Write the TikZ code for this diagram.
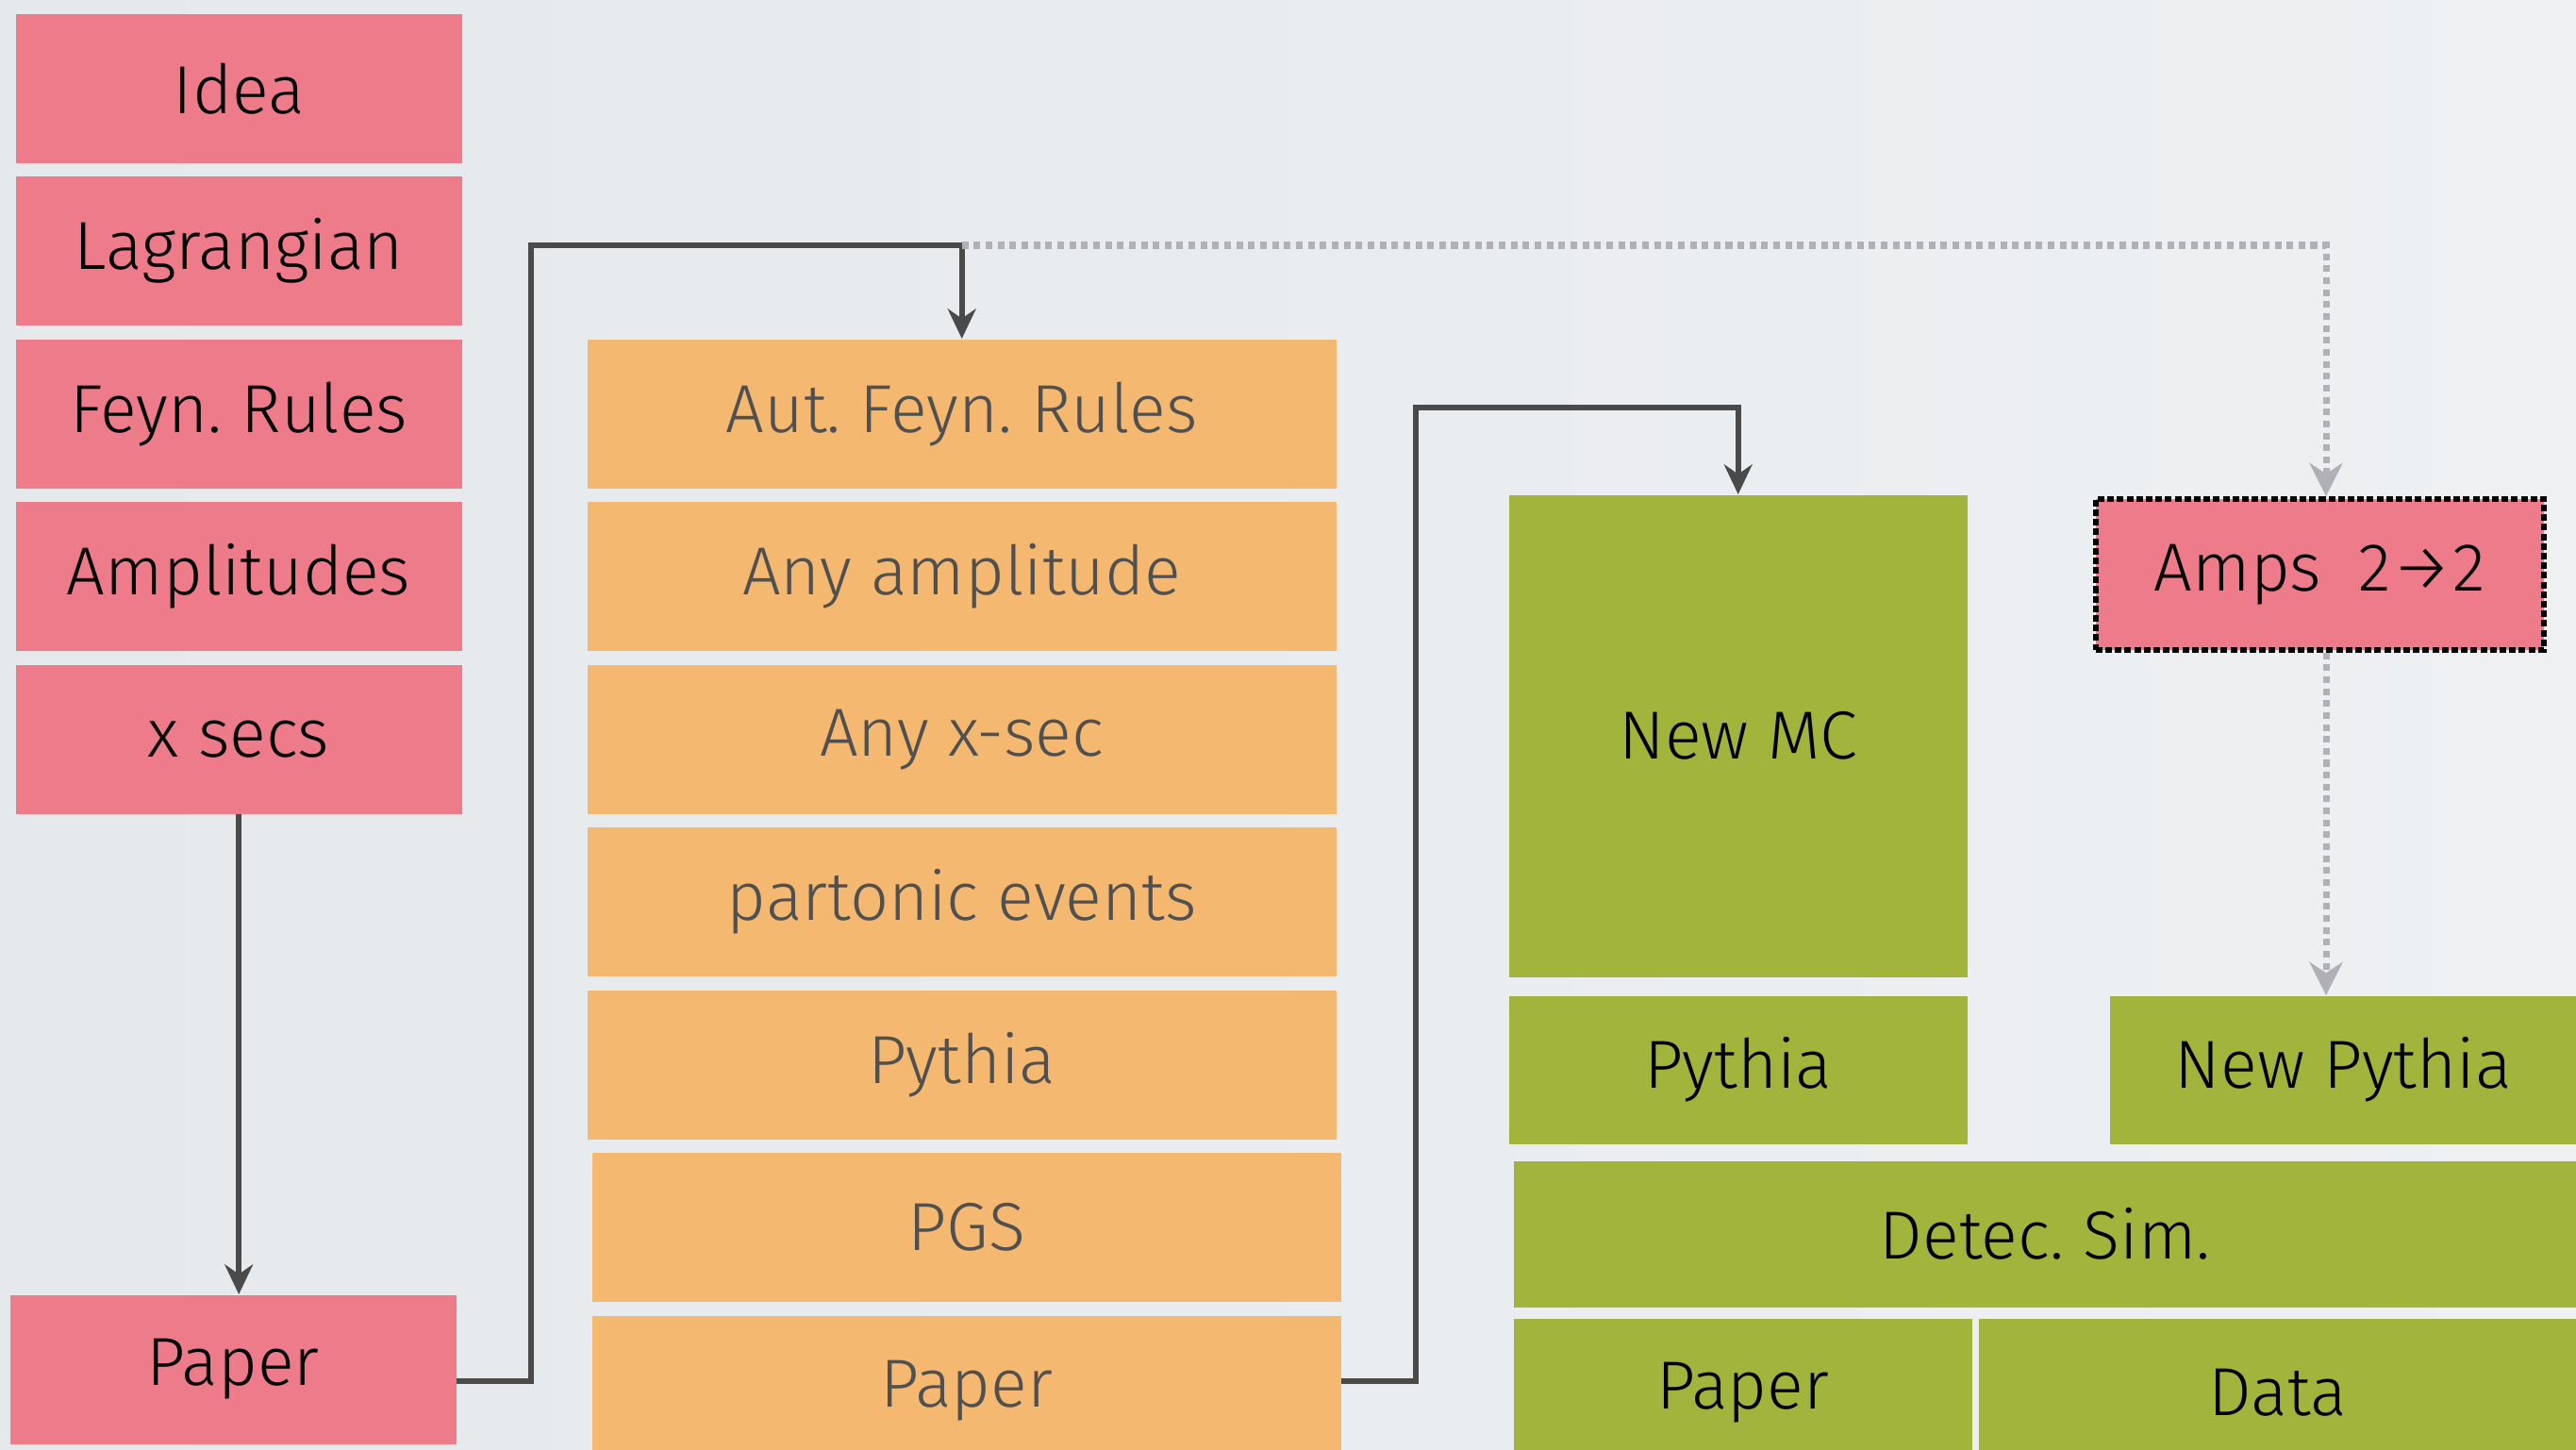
\documentclass[tikz,border=0pt]{standalone}
\usepackage{fontspec}
\setmainfont{Fira Sans Light}
\usetikzlibrary{arrows.meta,positioning,calc}

\definecolor{bgLeft}{RGB}{229,233,236}
\definecolor{bgRight}{RGB}{238,240,242}
\definecolor{boxPink}{RGB}{238,123,138}
\definecolor{boxOrange}{RGB}{244,184,112}
\definecolor{boxGreen}{RGB}{163,180,60}
\definecolor{lineGrey}{RGB}{74,74,74}
\definecolor{dotGrey}{RGB}{176,176,182}
\definecolor{textGrey}{RGB}{80,80,80}

\tikzset{
  block/.style={draw=none, inner sep=0pt, anchor=north west,
    font=\fontsize{20.5}{24}\selectfont, minimum height=1.58cm},
  pinkbox/.style={block, fill=boxPink, text=black, minimum width=4.73cm},
  orangebox/.style={block, fill=boxOrange, text=textGrey, minimum width=7.94cm},
  greenbox/.style={block, fill=boxGreen, text=black},
  link/.style={draw=lineGrey, line width=1.8pt, -{Stealth[length=9pt,width=8.5pt]}},
  hint/.style={draw=dotGrey, line width=2pt, dash pattern=on 2pt off 1.6pt,
    -{Stealth[length=10pt,width=10pt]}},
}

\begin{document}
\frenchspacing
\begin{tikzpicture}

% Background
\shade[left color=bgLeft, right color=bgRight] (0,0) rectangle (27.31,-15.37);
\useasboundingbox (0,0) rectangle (27.31,-15.37);

% Pink column (by hand)
\foreach \lbl [count=\i from 0] in {Idea, Lagrangian, Feyn. Rules, Amplitudes, x secs} {
  \pgfmathsetmacro{\y}{0.14 + \i * 1.725}
  \node[pinkbox] (pink\i) at (0.16, -\y) {\lbl};
}
\node[pinkbox] (pinkpaper) at (0.10, -13.72) {Paper};

% Orange column (automated chain)
\foreach \lbl [count=\i from 2] in {Aut. Feyn. Rules, Any amplitude, Any x-sec, partonic events, Pythia, PGS, Paper} {
  \pgfmathsetmacro{\y}{0.14 + \i * 1.725}
  \pgfmathsetmacro{\x}{\i > 6 ? 6.27 : 6.22}
  \node[orangebox] (orange\i) at (\x, -\y) {\lbl};
}

% Green blocks
\node[greenbox, minimum width=4.86cm, minimum height=5.11cm] (newmc) at (15.99, -5.24) {New MC};
\node[greenbox, minimum width=4.86cm, minimum height=1.57cm] (greenpythia) at (15.99, -10.55) {Pythia};
\node[greenbox, minimum width=4.95cm, minimum height=1.57cm] (newpythia) at (22.36, -10.55) {New Pythia};
\node[greenbox, minimum width=11.27cm, minimum height=1.55cm] (detec) at (16.04, -12.30) {Detec. Sim.};
\node[greenbox, minimum width=4.86cm] (greenpaper) at (16.04, -13.97) {Paper};
\node[greenbox, minimum width=6.34cm] (data) at (20.97, -13.97) {Data};

% Amplitudes box with dotted frame
\node[pinkbox, minimum width=4.75cm, minimum height=1.60cm, draw=black, line width=1.6pt,
  dash pattern=on 2pt off 0.9pt] (amps) at (22.19, -5.26) {Amps\hspace{0.55em}2→2};

% Connectors
\draw[link] (pink4.south) -- (pink4.south |- pinkpaper.north);

\coordinate (up1) at (5.63, -2.60);
\draw[link] ($(pinkpaper.east)+(0,-0.12)$) -| (up1) -| (orange2.north);

\coordinate (up2) at (15.01, -4.32);
\draw[link] ($(orange8.east)+(0,0.1)$) -| (up2) -| (newmc.north);

% Dotted shortcut
\coordinate (side) at (24.66, -2.60);
\draw[hint] (orange2.north |- up1) -- (side) -- (side |- amps.north);
\draw[hint] (side |- amps.south) -- (side |- newpythia.north);

\end{tikzpicture}
\end{document}
